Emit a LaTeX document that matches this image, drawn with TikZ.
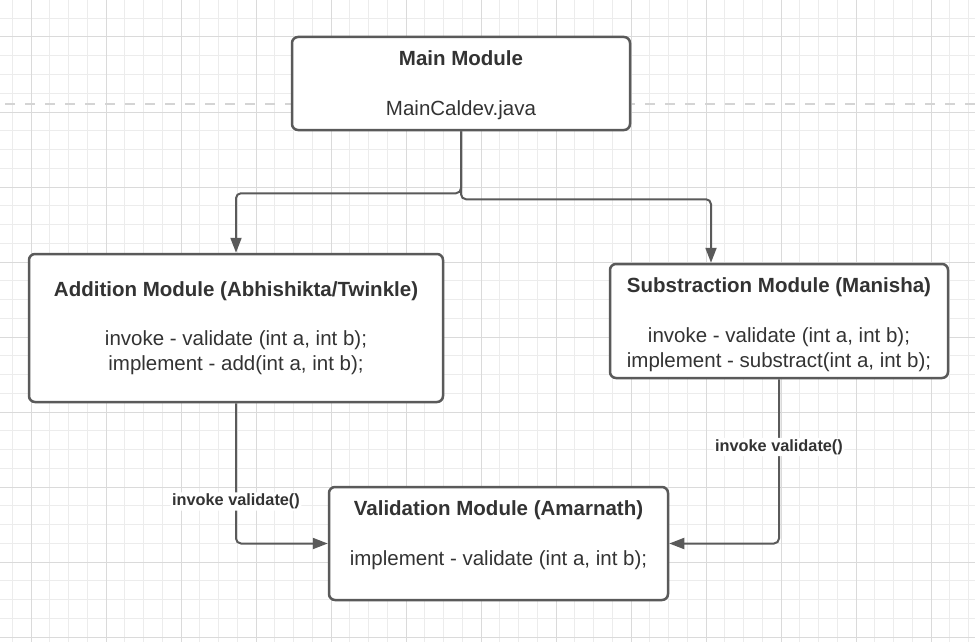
\documentclass[tikz,border=0pt]{standalone}
\usepackage{fontspec}
\setmainfont{Liberation Sans}
\usetikzlibrary{arrows.meta,positioning}
\definecolor{ln}{HTML}{5A5A5A}
\definecolor{txt}{HTML}{333333}
\definecolor{gmin}{HTML}{ECECEC}
\definecolor{gmaj}{HTML}{DADADA}
\definecolor{dsh}{HTML}{D4D4D4}
\tikzset{
  box/.style={draw=ln,line width=2.5pt,rounded corners=6pt,fill=white,align=center,inner sep=0pt,text=txt,font=\fontsize{20.5}{25}\selectfont},
  ar/.style={-{Triangle[length=15pt,width=11pt]},line width=2pt,draw=ln,rounded corners=5pt},
  lbl/.style={fill=white,inner sep=1.5pt,text=txt,font=\fontsize{16.3}{19}\selectfont\bfseries},
  gline/.style={line width=1pt,draw=gmin},
  gmline/.style={line width=1pt,draw=gmaj},
}

\begin{document}
\begin{tikzpicture}[x=1pt,y=-1pt]
\useasboundingbox (0,0) rectangle (975,642);
\fill[white] (0,0) rectangle (975,642);
% grid
\foreach \i in {0,...,51} \draw[gline] ({12.25+18.75*\i},0) -- ++(0,642);
\foreach \j in {0,...,33} \draw[gline] (0,{18.25+18.75*\j}) -- ++(975,0);
\foreach \i in {0,...,12} \draw[gmline] ({31+75*\i},0) -- ++(0,642);
\foreach \j in {0,...,8} \draw[gmline] (0,{37+75*\j}) -- ++(975,0);
\draw[dsh,line width=2.5pt,dash pattern=on 10pt off 10pt,dash phase=15pt] (0,104) -- (975,104);

% modules
\node[box,minimum width=338pt,minimum height=93pt] (main) at (461,83.5)
  {\rule{0pt}{19pt}\textbf{Main Module}\\[25pt]MainCaldev.java};
\node[box,minimum width=414pt,minimum height=148pt] (add) at (236,328)
  {\textbf{Addition Module (Abhishikta/Twinkle)}\\[24pt]invoke - validate (int a, int b);\\implement - add(int a, int b);};
\node[box,minimum width=338pt,minimum height=114pt] (sub) at (779,321)
  {\rule{0pt}{23pt}\textbf{Substraction Module (Manisha)}\\[25pt]invoke - validate (int a, int b);\\implement - substract(int a, int b);};
\node[box,minimum width=339pt,minimum height=113pt] (valid) at (498.5,543.5)
  {\textbf{Validation Module (Amarnath)}\\[25pt]implement - validate (int a, int b);\\[-4pt]\mbox{}};

% calls
\draw[ar] (main.south) -- ++(0,62) -| (add.north);
\draw[ar] (main.south) -- ++(0,68) -| ([xshift=-68pt]sub.north);
\draw[ar] (add.south) |- node[lbl,pos=0.35] (lad) {invoke validate()} (valid.west);
\draw[ar] (sub.south) |- node[lbl,pos=0.206] (lsub) {invoke validate()} (valid.east);
\end{tikzpicture}
\end{document}
